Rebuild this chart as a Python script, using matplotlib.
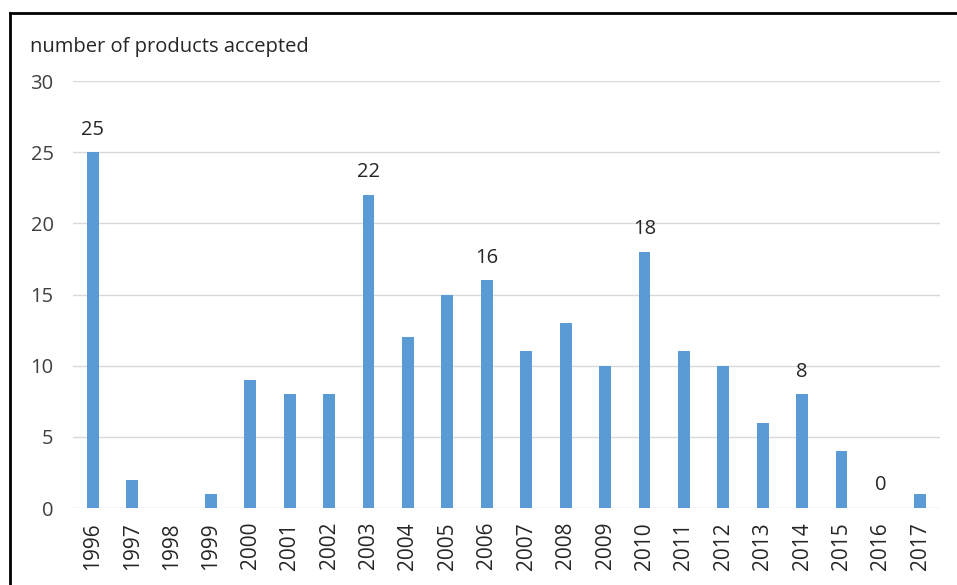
import matplotlib
matplotlib.use("Agg")
import matplotlib.pyplot as plt
from matplotlib.lines import Line2D

years = [str(y) for y in range(1996, 2018)]
values = [25, 2, 0, 1, 9, 8, 8, 22, 12, 15, 16, 11, 13, 10, 18, 11, 10, 6, 8, 4, 0, 1]
labeled_years = ["1996", "2003", "2006", "2010", "2014", "2016"]
y_ticks = [0, 5, 10, 15, 20, 25, 30]
y_title = "number of products accepted"

plt.rcParams['font.family'] = ['Open Sans', 'DejaVu Sans']

fig = plt.figure(figsize=(9.57, 5.85), dpi=100)
ax = fig.add_axes([73/957, 1 - 508/585, (940 - 73)/957, (508 - 81)/585])

x = list(range(len(years)))
ax.bar(x, values, width=0.3, color="#5b9bd5", zorder=3)
ax.set_xlim(-0.5, len(years) - 0.5)
ax.set_ylim(0, 30)
ax.set_yticks(y_ticks)
ax.set_yticklabels([str(t) for t in y_ticks], fontsize=14.5, color="#404040")
ax.set_xticks(x)
ax.set_xticklabels(years, rotation=90, fontsize=15, color="#262626")
ax.tick_params(axis='y', length=0, pad=14)
ax.tick_params(axis='x', length=0, pad=10)
ax.grid(axis='y', color="#d9d9d9", linewidth=1, zorder=0)
for s in ax.spines.values():
    s.set_visible(False)

for i, (yr, v) in enumerate(zip(years, values)):
    if yr in labeled_years:
        ax.annotate(str(v), (i, v), xytext=(0, 9), textcoords='offset points',
                    ha='center', va='bottom', fontsize=14.5, color="#262626")

fig.text(30/957, 1 - 47/585, y_title, fontsize=14.5, color="#262626", va='center', ha='left')

# outer frame (top and left black lines)
fig.add_artist(Line2D([9.5/957, 9.5/957], [0, 1 - 13/585], color='black', linewidth=2, transform=fig.transFigure))
fig.add_artist(Line2D([9.5/957, 1], [1 - 13/585, 1 - 13/585], color='black', linewidth=2, transform=fig.transFigure))

fig.savefig("out.png", dpi=100)
